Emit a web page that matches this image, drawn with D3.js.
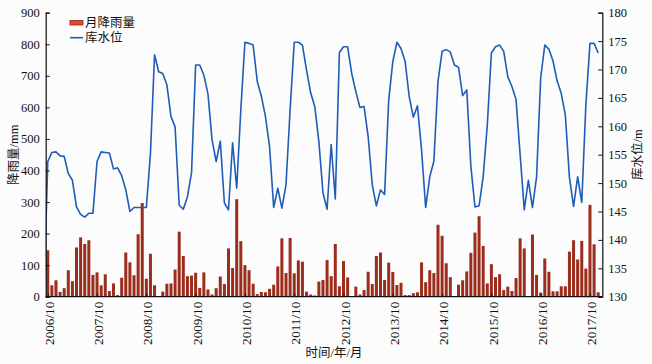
<!DOCTYPE html>
<html><head><meta charset="utf-8">
<script src="https://cdn.jsdelivr.net/npm/d3@7/dist/d3.min.js"></script>
<style>
html,body{margin:0;padding:0;background:#fcfcfc;}
svg{display:block;}
</style></head>
<body><svg id="c" width="652" height="364"></svg>
<script>
// ---- data ----
const startLabel = "2006/10";
const rain = [147,36,52,15,27,84,49,156,188,167,179,69,
77,36,71,18,42,5,60,140,109,68,198,297,
57,136,36,2,16,41,42,86,206,129,65,67,
76,28,77,23,7,27,64,40,153,91,309,176,
100,84,41,8,15,14,25,38,96,185,75,186,
74,115,111,16,7,4,48,53,116,65,167,33,
113,61,0,32,7,21,79,40,129,140,53,108,
78,37,44,5,5,11,14,109,46,84,75,228,
193,106,62,2,38,52,80,139,203,255,161,42,
103,62,71,21,32,18,59,185,153,0,197,69,
13,121,79,17,17,33,33,143,179,118,177,89,
291,166,14];
const levelBefore = 128; // value of the month before 2006/10
const level = [153.8,155.4,155.5,154.8,154.7,151.7,150.5,145.8,144.5,144.0,144.7,144.7,
153.8,155.5,155.4,155.3,152.5,152.7,151.3,148.8,145.0,145.7,145.7,145.7,
145.7,155.2,172.6,169.6,169.3,167.3,161.7,159.9,146.1,145.4,147.6,151.8,
170.8,170.8,169.0,165.7,157.6,153.8,157.4,146.5,145.3,157.1,149.1,162.9,
174.8,174.6,174.3,167.9,165.3,161.7,156.4,145.7,149.1,145.6,149.7,162.9,
174.8,174.8,174.3,169.9,165.9,163.5,157.3,148.3,145.4,156.8,147.2,173.0,
174.0,174.0,169.3,166.1,163.3,163.5,158.2,149.7,146.0,148.8,148.0,164.6,
171.4,174.8,173.7,171.4,165.2,161.6,163.6,155.8,145.7,151.1,153.9,167.9,
173.2,173.5,173.1,170.8,170.4,165.4,166.4,153.0,145.8,146.0,151.1,160.2,
172.9,174.0,174.3,173.2,168.7,167.0,164.7,155.0,145.3,150.5,145.7,151.1,
168.5,174.3,173.6,171.5,168.0,165.8,162.0,151.0,145.9,151.1,146.6,163.8,
174.6,174.6,172.9];
const xTickLabels = ["2006/10","2007/10","2008/10","2009/10","2010/10","2011/10","2012/10","2013/10","2014/10","2015/10","2016/10","2017/10"];
const leftTicks = [0,100,200,300,400,500,600,700,800,900];
const rightTicks = [130,135,140,145,150,155,160,165,170,175,180];
const seriesNames = ["月降雨量","库水位"];
const axisTitles = {x:"时间/年/月", left:"降雨量/mm", right:"库水位/m"};

// ---- layout ----
const L = 45.7, R = 602.3, T = 12.7, B = 296.7;
const svg = d3.select("#c");
const numFont = "'Liberation Serif','Times New Roman',serif";
const cjkFont = "'Liberation Serif','Noto Sans CJK SC',serif";

function monthIndex(lbl){
  const [y0,m0] = startLabel.split("/").map(Number);
  const [y,m] = lbl.split("/").map(Number);
  return (y-y0)*12 + (m-m0);
}

const x = d3.scaleLinear().domain([-0.5, 135]).range([L, R]);
const yL = d3.scaleLinear().domain([0, 900]).range([B, T]);
const yR = d3.scaleLinear().domain([130, 180]).range([B, T]);

svg.append("defs").append("clipPath").attr("id","clip")
  .append("rect").attr("x",L).attr("y",T).attr("width",R-L).attr("height",B-T);

// bars
const bw = 3;
svg.append("g").selectAll("rect").data(rain).join("rect")
  .attr("x",(d,i)=>x(i)-bw/2).attr("width",bw)
  .attr("y",d=>yL(d)).attr("height",d=>B-yL(d))
  .attr("fill","#9c2c1b");

// line
const lineData = [[-1, levelBefore]].concat(level.map((v,i)=>[i,v]));
svg.append("path").datum(lineData)
  .attr("clip-path","url(#clip)")
  .attr("fill","none").attr("stroke","#1f5cb8").attr("stroke-width",1.6)
  .attr("stroke-linejoin","round")
  .attr("d", d3.line().x(d=>x(d[0])).y(d=>yR(d[1])));

// axes
const gL = svg.append("g").attr("transform",`translate(${L},0)`)
  .call(d3.axisLeft(yL).tickValues(leftTicks).tickSize(-4).tickPadding(6));
const gR = svg.append("g").attr("transform",`translate(${R},0)`)
  .call(d3.axisRight(yR).tickValues(rightTicks).tickSize(-4).tickPadding(6));
const xt = xTickLabels.map(monthIndex);
const gX = svg.append("g").attr("transform",`translate(0,${B})`)
  .call(d3.axisBottom(x).tickValues(xt).tickFormat((d,i)=>xTickLabels[i]).tickSize(-3).tickPadding(4));
[gL,gR,gX].forEach(g=>{
  g.select(".domain").attr("stroke","#111").attr("stroke-width",1.2);
  g.selectAll(".tick line").attr("stroke","#111");
  g.selectAll(".tick text").attr("font-family",numFont).attr("font-size",12.5).attr("fill","#111");
});
gX.selectAll(".tick text")
  .attr("transform","rotate(-90)").attr("text-anchor","end")
  .attr("x",-5).attr("y",1).attr("dy","0.35em").attr("font-size",13.2);
gX.select(".domain").attr("d",`M${L},0H${R}`);

// axis titles
svg.append("text").attr("x",(L+R)/2+10).attr("y",357)
  .attr("text-anchor","middle").attr("font-family",cjkFont).attr("font-size",12.5).attr("fill","#111")
  .text(axisTitles.x);
svg.append("text").attr("transform",`translate(18,${(T+B)/2}) rotate(-90)`)
  .attr("text-anchor","middle").attr("font-family",cjkFont).attr("font-size",12.5).attr("fill","#111")
  .text(axisTitles.left);
svg.append("text").attr("transform",`translate(642,${(T+B)/2}) rotate(-90)`)
  .attr("text-anchor","middle").attr("font-family",cjkFont).attr("font-size",12.5).attr("fill","#111")
  .text(axisTitles.right);

// legend
const lg = svg.append("g");
lg.append("rect").attr("x",70).attr("y",20.5).attr("width",13).attr("height",4.5)
  .attr("fill","#e8462e").attr("stroke","#8a2416").attr("stroke-width",0.8);
lg.append("text").attr("x",85).attr("y",22.7).attr("dy","0.35em")
  .attr("font-family",cjkFont).attr("font-size",12.5).attr("fill","#111").text(seriesNames[0]);
lg.append("line").attr("x1",70).attr("x2",83).attr("y1",37.7).attr("y2",37.7)
  .attr("stroke","#1f5cb8").attr("stroke-width",1.6);
lg.append("text").attr("x",85).attr("y",37.7).attr("dy","0.35em")
  .attr("font-family",cjkFont).attr("font-size",12.5).attr("fill","#111").text(seriesNames[1]);
</script></body></html>
